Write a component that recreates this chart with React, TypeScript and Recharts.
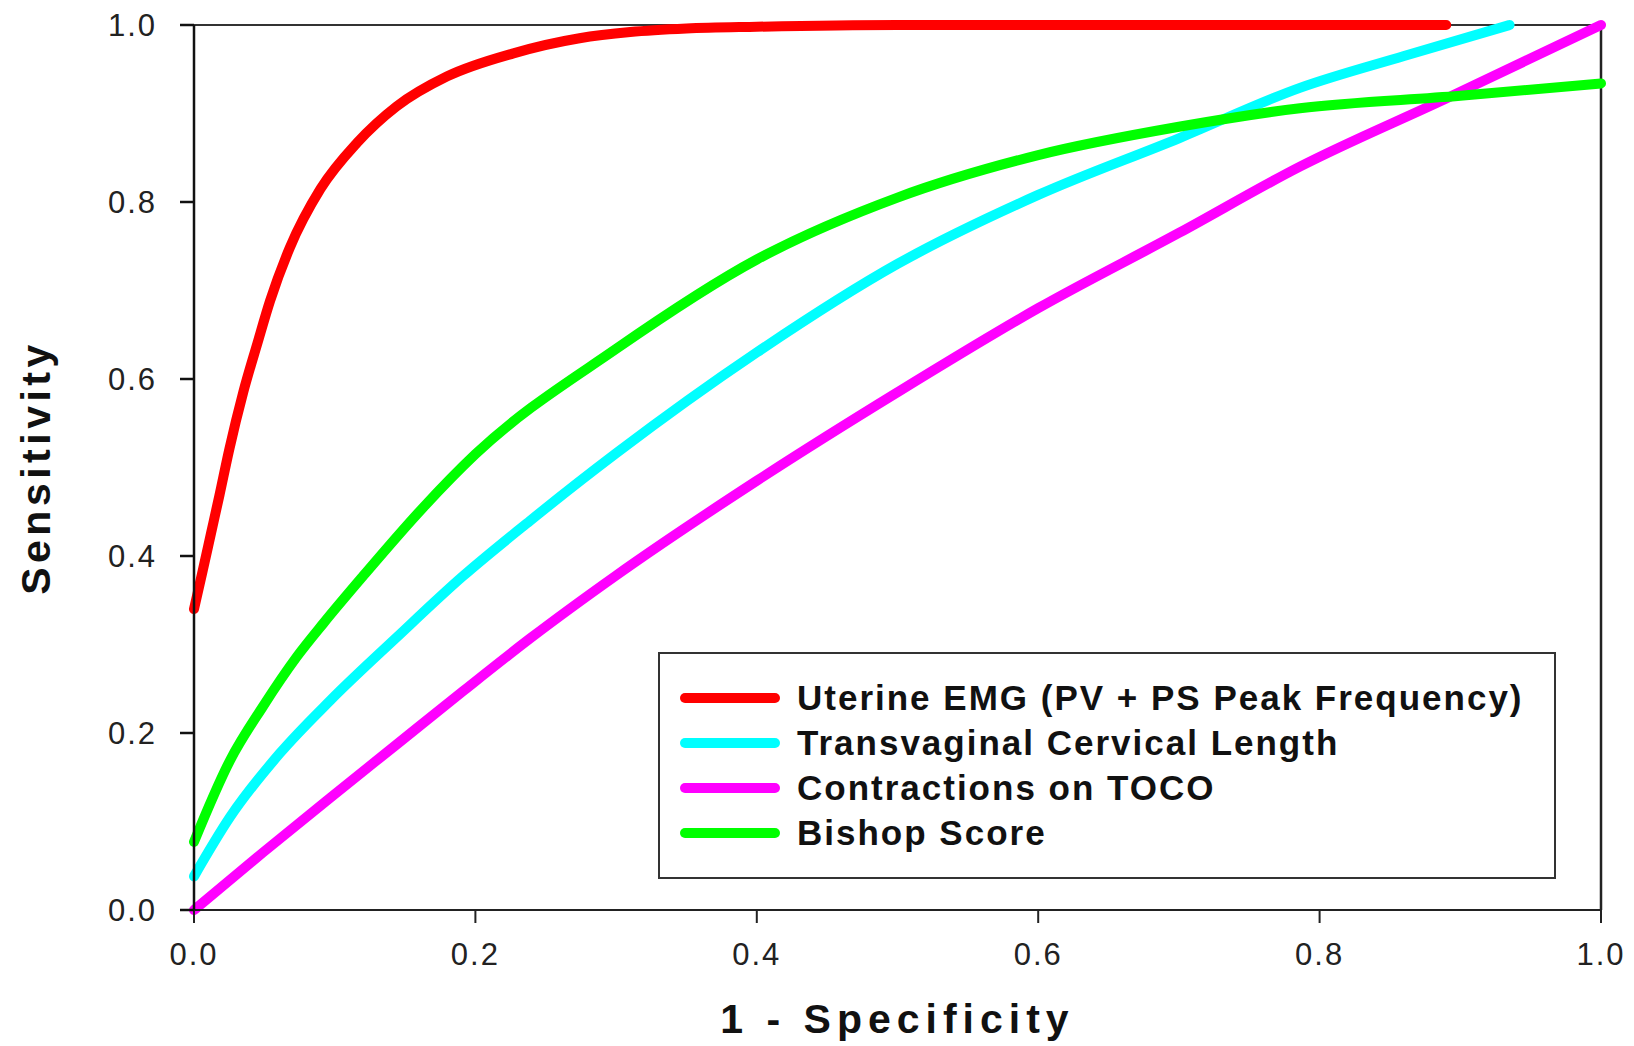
import React from "react";
import { LineChart, Line, XAxis, YAxis, Legend, ReferenceLine } from "recharts";

const FONT = "'Liberation Sans', Arial, sans-serif";

// 1 - specificity / sensitivity
const emgX = [0, 0.006, 0.012, 0.018, 0.025, 0.035, 0.045, 0.054, 0.068, 0.09, 0.116, 0.144, 0.18, 0.227, 0.274, 0.31, 0.35, 0.4, 0.5, 0.6, 0.7, 0.8, 0.89];
const emgY = [0.34, 0.382, 0.425, 0.468, 0.52, 0.585, 0.64, 0.688, 0.748, 0.815, 0.867, 0.908, 0.942, 0.968, 0.985, 0.992, 0.996, 0.998, 1, 1, 1, 1, 1];

const tvclX = [0, 0.0256, 0.061, 0.097, 0.144, 0.191, 0.239, 0.3, 0.4, 0.5, 0.6, 0.7, 0.786, 0.86, 0.935];
const tvclY = [0.038, 0.105, 0.177, 0.237, 0.308, 0.377, 0.44, 0.516, 0.63, 0.73, 0.808, 0.872, 0.929, 0.965, 1.0];

const tocoX = [0, 0.049, 0.097, 0.144, 0.191, 0.239, 0.3, 0.4, 0.5, 0.6, 0.7, 0.786, 0.89, 1.0];
const tocoY = [0, 0.065, 0.127, 0.187, 0.247, 0.307, 0.378, 0.485, 0.585, 0.68, 0.765, 0.84, 0.917, 1.0];

const bishopX = [0, 0.0256, 0.049, 0.073, 0.092, 0.12, 0.163, 0.2, 0.3, 0.4, 0.5, 0.6, 0.7, 0.786, 0.9, 1.0];
const bishopY = [0.077, 0.169, 0.23, 0.286, 0.324, 0.377, 0.455, 0.515, 0.634, 0.735, 0.805, 0.853, 0.885, 0.906, 0.92, 0.934];

const ticks = [0, 0.2, 0.4, 0.6, 0.8, 1.0];

const toPoints = (xs: number[], ys: number[]) => xs.map((x, i) => ({ x, y: ys[i] }));

const series = [
  { name: "Uterine EMG (PV + PS Peak Frequency)", color: "#ff0000", data: toPoints(emgX, emgY) },
  { name: "Transvaginal Cervical Length", color: "#00ffff", data: toPoints(tvclX, tvclY) },
  { name: "Contractions on TOCO", color: "#ff00ff", data: toPoints(tocoX, tocoY) },
  { name: "Bishop Score", color: "#00ff00", data: toPoints(bishopX, bishopY) },
];

const tickStyle = { fontSize: 31, fill: "#222", fontFamily: FONT, letterSpacing: 2 };
const titleStyle = { fontSize: 41, fontWeight: "bold", fill: "#111", fontFamily: FONT, letterSpacing: 4.5 };

const LegendBox = () => (
  <div
    style={{
      width: 898,
      height: 227,
      boxSizing: "border-box",
      border: "2px solid #333",
      background: "#fff",
      position: "relative",
    }}
  >
    {series.map((s, i) => (
      <div
        key={s.name}
        style={{
          position: "absolute",
          left: 20,
          top: 43 + i * 45 - 22,
          height: 45,
          display: "flex",
          alignItems: "center",
        }}
      >
        <div style={{ width: 100, height: 10, borderRadius: 5, background: s.color }} />
        <span
          style={{
            marginLeft: 17,
            fontFamily: FONT,
            fontWeight: "bold",
            fontSize: 35,
            letterSpacing: 2,
            color: "#111",
            whiteSpace: "nowrap",
            lineHeight: "45px",
          }}
        >
          {s.name}
        </span>
      </div>
    ))}
  </div>
);

export default function App() {
  return (
    <div style={{ position: "absolute", left: 0, top: 0, background: "#fff" }}>
      <LineChart width={1634} height={1046} margin={{ top: 25, right: 33, left: 0, bottom: 0 }}>
        <XAxis
          dataKey="x"
          type="number"
          domain={[0, 1]}
          ticks={ticks}
          tickFormatter={(v: number) => v.toFixed(1)}
          stroke="#222"
          strokeWidth={2}
          tickSize={13}
          tickMargin={20}
          height={136}
          tick={tickStyle}
          label={{
            value: "1 - Specificity",
            position: "insideBottom",
            offset: 13,
            style: { ...titleStyle, letterSpacing: 6 },
          }}
        />
        <YAxis
          type="number"
          domain={[0, 1]}
          ticks={ticks}
          tickFormatter={(v: number) => v.toFixed(1)}
          stroke="#111"
          strokeWidth={2.5}
          tickSize={14}
          tickMargin={23}
          width={194}
          tick={tickStyle}
          label={{
            value: "Sensitivity",
            angle: -90,
            position: "insideLeft",
            offset: 35,
            style: { ...titleStyle, textAnchor: "middle" },
          }}
        />
        <ReferenceLine y={1} stroke="#333" strokeWidth={2} />
        <ReferenceLine x={1} stroke="#222" strokeWidth={2.5} />
        <Legend
          layout="vertical"
          align="center"
          verticalAlign="middle"
          content={() => <LegendBox />}
          wrapperStyle={{ left: 658, top: 652, width: 898, height: 227 }}
        />
        {series.map((s) => (
          <Line
            key={s.name}
            name={s.name}
            data={s.data}
            dataKey="y"
            type="monotone"
            stroke={s.color}
            strokeWidth={10}
            strokeLinecap="round"
            dot={false}
            activeDot={false}
            isAnimationActive={false}
          />
        ))}
      </LineChart>
    </div>
  );
}
